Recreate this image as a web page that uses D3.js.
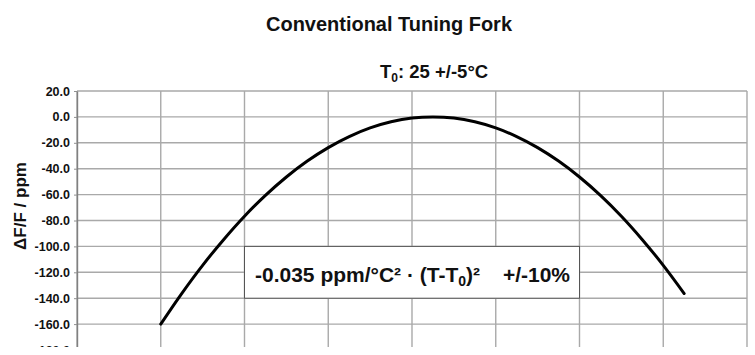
<!DOCTYPE html>
<html>
<head>
<meta charset="utf-8">
<script src="https://cdn.jsdelivr.net/npm/d3@7"></script>
<style>
    body { margin: 0; background: #fff; }
    svg text { font-family: "Liberation Sans", Arial, sans-serif; font-weight: bold; fill: #111; }
</style>
</head>
<body>
<div id="chart"></div>
<script>

// temperature in °C and frequency drift in ppm
var temps = [-40, -35, -30, -25, -20, -15, -10, -5, 0, 5, 10, 15, 20, 25,
             30, 35, 40, 45, 50, 55, 60, 65, 70, 75, 80, 85]
var drift = [-160.0, -136.4, -114.6, -94.8, -76.7, -60.6, -46.4, -34.1, -23.7, -15.2, -8.5, -3.8, -0.9, 0.0,
             -0.9, -3.8, -8.5, -15.2, -23.7, -34.1, -46.4, -60.6, -76.7, -94.8, -114.6, -136.4]

var yTicks = [20, 0, -20, -40, -60, -80, -100, -120, -140, -160, -180]
var xTicks = [-60, -40, -20, 0, 20, 40, 60, 80, 100]

// formula box, in data units
var boxT = [-20, 60]
var boxPpm = [-100, -140]

var W = 755, H = 347
var m = [91, 8, 0, 77] //top right bottom left
var w = W - m[1] - m[3]
var h = 350 - m[0]

var x = d3.scaleLinear()
    .domain([xTicks[0], xTicks[xTicks.length - 1]])
    .range([0, w])

var y = d3.scaleLinear()
    .domain([20, -180])
    .range([0, h])

var svg = d3.select("#chart")
    .append("svg")
    .attr("width", W)
    .attr("height", H)

var main = svg.append("g")
    .attr("transform", "translate(" + m[3] + "," + m[0] + ")")

// grid
main.append("g")
    .selectAll("line")
    .data(yTicks)
    .enter()
    .append("line")
    .attr("x1", 0)
    .attr("x2", w)
    .attr("y1", function (d) { return y(d) })
    .attr("y2", function (d) { return y(d) })
    .attr("stroke", "#a9a9a9")
    .attr("stroke-width", 1.4)

main.append("g")
    .selectAll("line")
    .data(xTicks)
    .enter()
    .append("line")
    .attr("x1", function (d) { return x(d) })
    .attr("x2", function (d) { return x(d) })
    .attr("y1", 0)
    .attr("y2", h)
    .attr("stroke", "#a9a9a9")
    .attr("stroke-width", 1.4)

// y axis
var yAxis = d3.axisLeft(y)
    .tickValues(yTicks)
    .tickFormat(function (d) { return d.toFixed(1) })
    .tickSize(3)
    .tickSizeOuter(0)
    .tickPadding(4)

var gy = main.append("g").call(yAxis)
gy.select(".domain").attr("stroke", "#808080").attr("stroke-width", 1.4)
gy.selectAll(".tick line").attr("stroke", "#909090")
gy.selectAll(".tick text")
    .attr("font-size", 12.5)
    .attr("fill", "#222")
    .attr("font-family", null)

// formula box
main.append("rect")
    .attr("x", x(boxT[0]))
    .attr("y", y(boxPpm[0]))
    .attr("width", x(boxT[1]) - x(boxT[0]))
    .attr("height", y(boxPpm[1]) - y(boxPpm[0]))
    .attr("fill", "#fff")
    .attr("stroke", "#555")
    .attr("stroke-width", 1)

// curve
var line = d3.line()
    .x(function (d, i) { return x(temps[i]) })
    .y(function (d) { return y(d) })
    .curve(d3.curveCatmullRom)

main.append("path")
    .datum(drift)
    .attr("d", line)
    .attr("fill", "none")
    .attr("stroke", "#000")
    .attr("stroke-width", 3)
    .attr("stroke-linecap", "round")

// texts
svg.append("text")
    .attr("x", 266)
    .attr("y", 31)
    .attr("font-size", 21)
    .attr("textLength", 246)
    .attr("lengthAdjust", "spacingAndGlyphs")
    .text("Conventional Tuning Fork")

var sub = svg.append("text")
    .attr("x", 380)
    .attr("y", 78)
    .attr("font-size", 18.5)
sub.append("tspan").text("T")
sub.append("tspan").attr("dy", 4).attr("font-size", 12).text("0")
sub.append("tspan").attr("dy", -4).text(": 25 +/-5°C")

var f = svg.append("text")
    .attr("x", 255)
    .attr("y", 282)
    .attr("font-size", 21)
f.append("tspan").text("-0.035 ppm/°C² · (T-T")
f.append("tspan").attr("dy", 4).attr("font-size", 14).text("0")
f.append("tspan").attr("dy", -4).text(")²")

svg.append("text")
    .attr("x", 570)
    .attr("y", 282)
    .attr("font-size", 21)
    .attr("text-anchor", "end")
    .text("+/-10%")

svg.append("text")
    .attr("transform", "translate(26," + 206 + ") rotate(-90)")
    .attr("text-anchor", "middle")
    .attr("font-size", 17)
    .text("ΔF/F / ppm")

</script>
</body>
</html>
